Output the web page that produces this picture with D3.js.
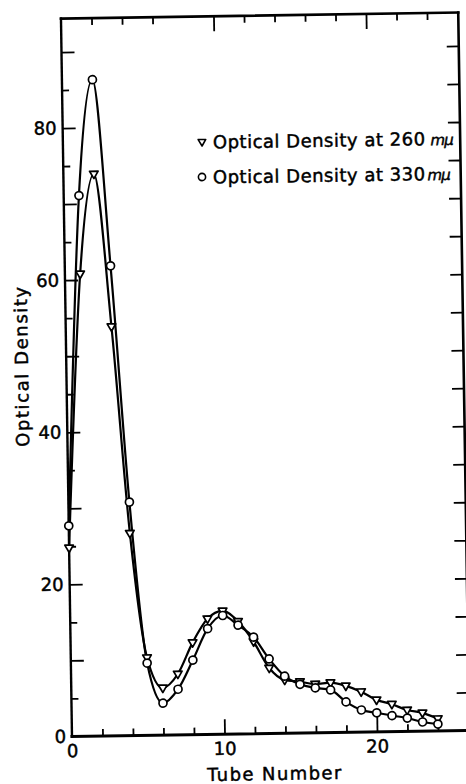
<!DOCTYPE html>
<html>
<head>
<meta charset="utf-8">
<script src="https://cdn.jsdelivr.net/npm/d3@7"></script>
<style>
  html, body { margin: 0; padding: 0; background: #fff; }
  svg { display: block; }
  text { font-family: "DejaVu Sans", sans-serif; fill: #000; stroke: #000; stroke-width: 0.45px; }
</style>
</head>
<body>
<svg id="chart" width="466" height="784"></svg>
<script>
// Fraction collector readings: optical density per tube
const tubes = [0, 1, 2, 3, 4, 5, 6, 7, 8, 9, 10, 11, 12, 13, 14, 15, 16, 17, 18, 19, 20, 21, 22, 23, 24];
const od260 = [24.8, 60.8, 73.9, 53.8, 26.6, 10.2, 6.2, 8.0, 12.1, 15.2, 16.2, 14.8, 12.1, 8.6, 7.0, 6.75, 6.4, 6.55, 6.1, 5.3, 4.2, 3.6, 2.8, 2.4, 1.6];
const od330 = [27.7, 71.1, 86.3, 61.8, 30.7, 9.5, 4.2, 6.0, 9.8, 13.9, 15.6, 14.3, 12.7, 9.8, 7.5, 6.4, 5.9, 5.6, 4.0, 2.9, 2.5, 2.1, 1.75, 1.2, 0.9];

// Axis ticks
const yLabelTicks = [0, 20, 40, 60, 80];
const yLongTicks = [10, 20, 30, 40, 50, 60, 70, 80, 90];
const yShortTicks = [5, 15, 25, 35, 45, 55, 65, 75, 85];
const yRightTicks = [5, 10, 15, 20, 25, 30, 35, 40, 45, 50, 55, 60, 65, 70, 75, 80, 85, 90];
const xLabelTicks = [0, 10, 20];
const xLongTicks = [10, 20];
const xShortTicks = [2, 4, 6, 8, 12, 14, 16, 18, 22, 24];
const xTopShortTicks = [2, 4, 6, 12, 14, 16, 18, 22, 24];

const seriesNames = ["Optical Density at 260", "Optical Density at 330"];
const unitLabel = "m\u03bc";

// Frame geometry: origin at the lower-left corner, plot slightly tilted
const ox = 72, oy = 736.5, tilt = -0.88;
const xMax = 26.05, yMax = 94.4;
const x = d3.scaleLinear().domain([0, xMax]).range([0, 397.3]);
const y = d3.scaleLinear().domain([0, yMax]).range([0, -718]);

const svg = d3.select("#chart");
const g = svg.append("g").attr("transform", `translate(${ox},${oy}) rotate(${tilt})`);

// page position -> tilted frame position
const rad = tilt * Math.PI / 180;
function toFrame(sx, sy) {
  const dx = sx - ox, dy = sy - oy;
  const c = Math.cos(-rad), s = Math.sin(-rad);
  return [dx * c - dy * s, dx * s + dy * c];
}

const ink = "#000";

// Frame lines
const frame = g.append("g").attr("fill", "none").attr("stroke", ink).attr("stroke-linecap", "square");
frame.append("line").attr("x1", x(0)).attr("y1", y(0)).attr("x2", x(27)).attr("y2", y(0)).attr("stroke-width", 3);
frame.append("line").attr("x1", x(0)).attr("y1", y(0)).attr("x2", x(0)).attr("y2", y(yMax)).attr("stroke-width", 2.4);
frame.append("line").attr("x1", x(0)).attr("y1", y(yMax)).attr("x2", x(xMax)).attr("y2", y(yMax)).attr("stroke-width", 2.6);
frame.append("line").attr("x1", x(xMax)).attr("y1", y(yMax)).attr("x2", x(xMax)).attr("y2", y(0)).attr("stroke-width", 2.6);

function tickGroup(axis, tx, ty) {
  const a = g.append("g").attr("transform", `translate(${tx},${ty})`).call(axis);
  a.select(".domain").remove();
  a.selectAll(".tick line").attr("stroke", ink).attr("stroke-width", 1.8);
  a.selectAll(".tick text").attr("fill", ink).style("font-family", '"DejaVu Sans", sans-serif').style("font-size", "18px");
  return a;
}

// Left axis
tickGroup(d3.axisLeft(y).tickValues(yLongTicks).tickSize(-13).tickFormat(""), x(0), 0);
tickGroup(d3.axisLeft(y).tickValues(yShortTicks).tickSize(-7).tickFormat(""), x(0), 0);
tickGroup(d3.axisLeft(y).tickValues(yLabelTicks).tickSize(0).tickPadding(6).tickFormat(d3.format("d")), x(0), 0);

// Right axis
tickGroup(d3.axisRight(y).tickValues(yRightTicks).tickSize(-12).tickFormat(""), x(xMax), 0);

// Bottom axis
tickGroup(d3.axisBottom(x).tickValues(xLongTicks).tickSize(-15).tickFormat(""), 0, y(0));
tickGroup(d3.axisBottom(x).tickValues(xShortTicks).tickSize(-7).tickFormat(""), 0, y(0));
tickGroup(d3.axisBottom(x).tickValues(xLabelTicks).tickSize(0).tickPadding(8).tickFormat(d3.format("d")), 0, y(0));

// Top axis
tickGroup(d3.axisTop(x).tickValues(xLongTicks).tickSize(-15).tickFormat(""), 0, y(yMax));
tickGroup(d3.axisTop(x).tickValues(xTopShortTicks).tickSize(-7).tickFormat(""), 0, y(yMax));

// Curves
const pts260 = tubes.map((t, i) => [t, od260[i]]);
const pts330 = tubes.map((t, i) => [t, od330[i]]);
const line = d3.line().x(d => x(d[0])).y(d => y(d[1])).curve(d3.curveMonotoneX);
[pts260, pts330].forEach(p => {
  g.append("path").datum(p).attr("d", line)
    .attr("fill", "none").attr("stroke", ink).attr("stroke-width", 2.2).attr("stroke-linejoin", "round");
});

// Markers
const triPath = "M-4.3,-2.8L4.3,-2.8L0,4.6Z";
g.append("g").selectAll("path").data(pts260).join("path")
  .attr("d", triPath)
  .attr("transform", d => `translate(${x(d[0])},${y(d[1])})`)
  .attr("fill", "#fff").attr("stroke", ink).attr("stroke-width", 1.7).attr("stroke-linejoin", "round");
g.append("g").selectAll("circle").data(pts330).join("circle")
  .attr("cx", d => x(d[0])).attr("cy", d => y(d[1])).attr("r", 4)
  .attr("fill", "#fff").attr("stroke", ink).attr("stroke-width", 1.7);

// Legend
const legend = g.append("g");
const legendRows = [
  { sym: "tri", at: [202, 142], text: [213, 148.5], label: seriesNames[0], unit: unitLabel, gap: 5 },
  { sym: "circ", at: [202, 177], text: [213, 183.5], label: seriesNames[1], unit: unitLabel, gap: 2 }
];
legendRows.forEach(r => {
  const [sx, sy] = toFrame(r.at[0], r.at[1]);
  if (r.sym === "tri") {
    legend.append("path").attr("d", "M-3.8,-2.5L3.8,-2.5L0,4Z").attr("transform", `translate(${sx},${sy})`)
      .attr("fill", "#fff").attr("stroke", ink).attr("stroke-width", 1.6).attr("stroke-linejoin", "round");
  } else {
    legend.append("circle").attr("cx", sx).attr("cy", sy).attr("r", 3.6)
      .attr("fill", "#fff").attr("stroke", ink).attr("stroke-width", 1.6);
  }
  const [tx, ty] = toFrame(r.text[0], r.text[1]);
  const t = legend.append("text").attr("x", tx).attr("y", ty)
    .style("font-size", "18px").style("letter-spacing", "0.5px");
  t.append("tspan").text(r.label);
  t.append("tspan").attr("dx", r.gap).style("font-size", "15px").style("font-style", "italic")
    .style("letter-spacing", "-1px").text(r.unit);
});

// Axis titles
const [yx, yy] = toFrame(28, 366);
g.append("text").attr("transform", `translate(${yx},${yy}) rotate(-90)`)
  .attr("text-anchor", "middle").style("font-size", "18px").style("letter-spacing", "1.6px")
  .text("Optical Density");
const [xx, xy] = toFrame(275, 780);
g.append("text").attr("x", xx).attr("y", xy)
  .attr("text-anchor", "middle").style("font-size", "18px").style("letter-spacing", "1.4px")
  .text("Tube Number");
</script>
</body>
</html>
